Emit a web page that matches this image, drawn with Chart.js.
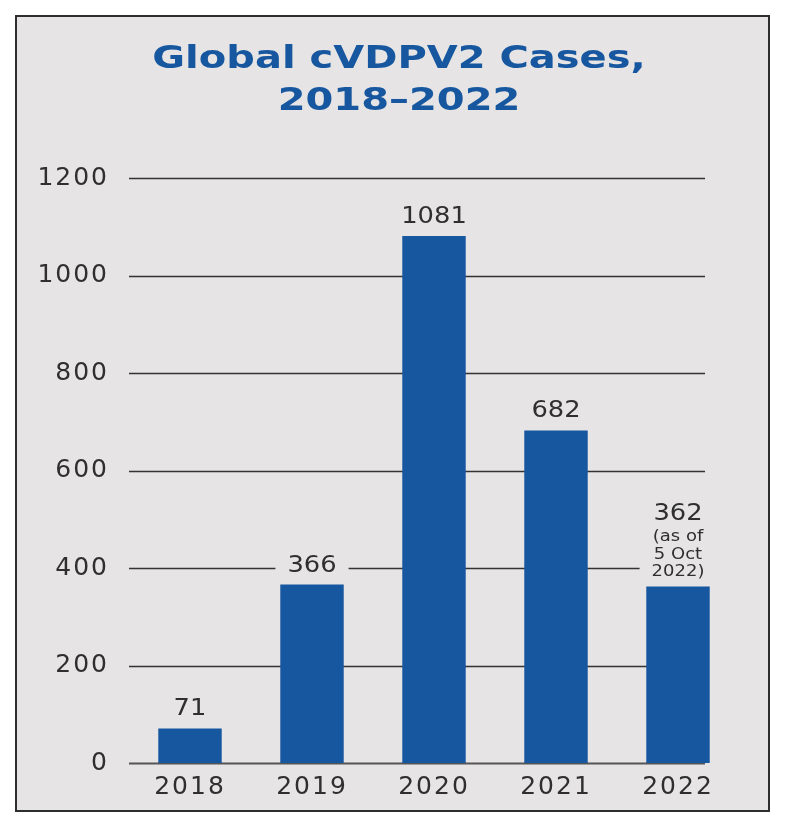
<!DOCTYPE html>
<html><head><meta charset="utf-8">
<script src="https://cdn.jsdelivr.net/npm/chart.js@4"></script>
<style>
html,body{margin:0;padding:0;background:#fff;width:788px;height:829px;overflow:hidden}
#box{position:absolute;left:15px;top:15px;width:751px;height:793px;border:2px solid #2e2e2e;background:#e6e4e4}
#c{position:absolute;left:0;top:0}
</style></head><body>
<div id="box"></div>
<canvas id="c" width="788" height="829"></canvas>
<script>
const years = ['2018', '2019', '2020', '2021', '2022'];
const cases = [71, 366, 1081, 682, 362];
const notes = [[], [], [], [], ['(as of', '5 Oct', '2022)']];
const yTickValues = [0, 200, 400, 600, 800, 1000, 1200];
const titleLines = ['Global cVDPV2 Cases,', '2018–2022'];

const BG = '#e6e4e4';
const BLUE = '#17579f';
const TEXT = '#2f2f2f';
const NUMFONT = 'DejaVu Sans';

function stretchText(ctx, text, x, y, sx) {
  ctx.save();
  ctx.translate(x, y);
  ctx.scale(sx, 1);
  ctx.fillText(text, 0, 0);
  ctx.restore();
}

const titlePlugin = {
  id: 'bigTitle',
  beforeDraw(chart) {
    const {ctx} = chart;
    ctx.save();
    ctx.letterSpacing = '0px';
    ctx.fillStyle = BLUE;
    ctx.font = 'bold 32px "DejaVu Sans"';
    ctx.textAlign = 'center';
    ctx.textBaseline = 'alphabetic';
    stretchText(ctx, titleLines[0], 399, 68, 1.25);
    stretchText(ctx, titleLines[1], 399, 110, 1.25);
    ctx.restore();
    ctx.letterSpacing = '2px';
  },
  afterDraw(chart) {
    chart.ctx.letterSpacing = '0px';
  }
};

const gridPlugin = {
  id: 'gridLines',
  beforeDatasetsDraw(chart) {
    const {ctx, chartArea, scales: {y}} = chart;
    const right = 705;
    ctx.save();
    y.ticks.forEach(t => {
      const py = Math.round(y.getPixelForValue(t.value)) + 0.5;
      ctx.strokeStyle = t.value === 0 ? '#555' : '#333';
      ctx.lineWidth = t.value === 0 ? 2 : 1.3;
      ctx.beginPath();
      ctx.moveTo(chartArea.left, py);
      ctx.lineTo(right, py);
      ctx.stroke();
    });
    ctx.restore();
  }
};

const labelPlugin = {
  id: 'barLabels',
  afterDatasetsDraw(chart) {
    const {ctx} = chart;
    const meta = chart.getDatasetMeta(0);
    ctx.save();
    ctx.letterSpacing = '0px';
    ctx.textAlign = 'center';
    ctx.textBaseline = 'middle';
    const mainFont = '23px "' + NUMFONT + '"';
    const subFont = '15px "' + NUMFONT + '"';
    const mainSx = 1.12, subSx = 1.2;
    meta.data.forEach((bar, i) => {
      const sub = notes[i];
      const subStep = 17.5;
      const subBottom = bar.y - 14;
      const mainY = sub.length ? subBottom - (sub.length - 1) * subStep - 23 : bar.y - 19;
      ctx.font = mainFont;
      let w = ctx.measureText(String(cases[i])).width * mainSx;
      ctx.font = subFont;
      sub.forEach(s => { w = Math.max(w, ctx.measureText(s).width * subSx); });
      const top = mainY - 15;
      const bottom = sub.length ? subBottom + 9 : mainY + 14;
      ctx.fillStyle = BG;
      ctx.fillRect(bar.x - w / 2 - 12, top, w + 24, bottom - top);
      ctx.fillStyle = TEXT;
      ctx.font = mainFont;
      stretchText(ctx, String(cases[i]), bar.x, mainY, mainSx);
      ctx.font = subFont;
      sub.forEach((s, k) => {
        stretchText(ctx, s, bar.x, subBottom - (sub.length - 1 - k) * subStep, subSx);
      });
    });
    ctx.restore();
  }
};

new Chart(document.getElementById('c'), {
  type: 'bar',
  data: {
    labels: years,
    datasets: [{
      data: cases,
      backgroundColor: BLUE,
      borderWidth: 0,
      barPercentage: 0.52,
      categoryPercentage: 1.0
    }]
  },
  options: {
    responsive: false,
    devicePixelRatio: 1,
    animation: false,
    layout: {padding: {left: 0, right: 49, top: 178, bottom: 16}},
    plugins: {
      legend: {display: false},
      tooltip: {enabled: false},
      title: {display: false}
    },
    scales: {
      x: {
        grid: {display: false, drawTicks: false},
        border: {display: false},
        ticks: {color: TEXT, font: {family: NUMFONT, size: 25}, padding: 9},
        afterFit(s) { s.height = 50; }
      },
      y: {
        min: 0, max: 1200,
        afterBuildTicks(s) { s.ticks = yTickValues.map(v => ({value: v})); },
        grid: {display: false, drawTicks: false},
        border: {display: false},
        ticks: {color: TEXT, font: {family: NUMFONT, size: 25}, padding: 20,
                callback: v => String(v)},
        afterFit(s) { s.width = 129; }
      }
    }
  },
  plugins: [titlePlugin, gridPlugin, labelPlugin]
});
</script>
</body></html>
